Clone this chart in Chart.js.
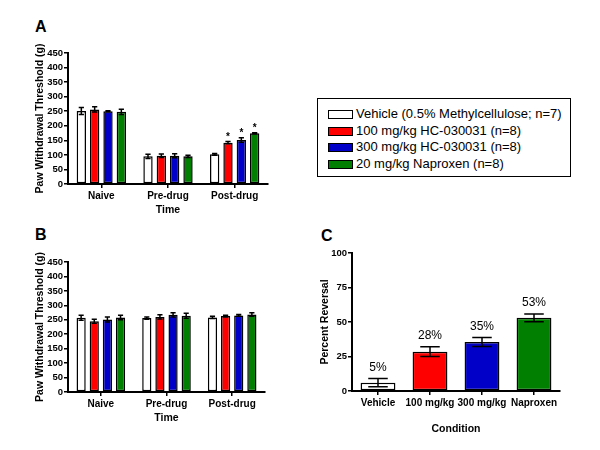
<!DOCTYPE html>
<html>
<head>
<meta charset="utf-8">
<script src="https://cdn.jsdelivr.net/npm/chart.js@4/dist/chart.umd.min.js"></script>
<style>
    body { margin: 0; background: #fff; font-family: "Liberation Sans", Arial, sans-serif; }
    #wrap { position: relative; width: 600px; height: 450px; overflow: hidden; }
    .panel { position: absolute; }
    .letter { position: absolute; font-weight: bold; font-size: 16px; line-height: 16px; }
    #legend { position: absolute; left: 317px; top: 98px; width: 252px; height: 77px; border: 1.5px solid #000; }
    .item { position: absolute; left: 10px; height: 17px; line-height: 17px; font-size: 13px; white-space: nowrap; }
    .swatch { display: inline-block; width: 23px; height: 7px; border: 1px solid #000; margin-right: 3px; vertical-align: -1px; }
</style>
</head>
<body>
<div id="wrap">
    <div class="letter" style="left:35px;top:19px">A</div>
    <div class="letter" style="left:35px;top:227px">B</div>
    <div class="letter" style="left:321px;top:228px">C</div>
    <div class="panel" style="left:0;top:0"><canvas id="chartA" width="300" height="220"></canvas></div>
    <div class="panel" style="left:0;top:220px"><canvas id="chartB" width="300" height="230"></canvas></div>
    <div class="panel" style="left:300px;top:220px"><canvas id="chartC" width="300" height="230"></canvas></div>
    <div id="legend"></div>
</div>
<script>
// categorie e serie
var categories = ['Naive', 'Pre-drug', 'Post-drug'];
var seriesNames = ['Vehicle (0.5% Methylcellulose; n=7)', '100 mg/kg HC-030031 (n=8)', '300 mg/kg HC-030031 (n=8)', '20 mg/kg Naproxen (n=8)'];
var seriesColors = ['#ffffff', '#ff0000', '#0000c8', '#007f00'];

// pannello A (medie e errori)
var vehicleA = [251, 95, 102];
var hc100A = [256, 97, 142];
var hc300A = [250, 97, 151];
var naproxenA = [248, 95, 174];
var vehicleAErr = [12, 7, 3];
var hc100AErr = [9, 6, 4];
var hc300AErr = [2, 7, 8];
var naproxenAErr = [9, 4, 2];
var vehicleASig = [0, 0, 0];
var hc100ASig = [0, 0, 1];
var hc300ASig = [0, 0, 1];
var naproxenASig = [0, 0, 1];

// pannello B
var vehicleB = [257, 256, 258];
var hc100B = [245, 260, 263];
var hc300B = [251, 267, 265];
var naproxenB = [258, 264, 268];
var vehicleBErr = [9, 4, 4];
var hc100BErr = [7, 7, 3];
var hc300BErr = [9, 7, 3];
var naproxenBErr = [8, 9, 6];

// pannello C
var conditions = ['Vehicle', '100 mg/kg', '300 mg/kg', 'Naproxen'];
var reversal = [6, 28.5, 35.5, 53];
var reversalErr = [3, 3.5, 3.2, 2.8];
var reversalLabels = ['5%', '28%', '35%', '53%'];

var FONT = '"Liberation Sans", Arial, sans-serif';

// legenda html
var legend = document.getElementById('legend');
seriesNames.forEach(function (name, i) {
    var div = document.createElement('div');
    div.className = 'item';
    div.style.top = (6 + i * 16.7) + 'px';
    div.innerHTML = '<span class="swatch" style="background:' + seriesColors[i] + '"></span>' + name;
    legend.appendChild(div);
});

// barre di errore, asterischi ed etichette
var errorBarPlugin = {
    id: 'errorBars',
    afterDatasetsDraw: function (chart) {
        var ctx = chart.ctx;
        var yScale = chart.scales.y;
        chart.data.datasets.forEach(function (ds, i) {
            var meta = chart.getDatasetMeta(i);
            meta.data.forEach(function (bar, j) {
                var v = ds.data[j];
                var e = ds.errors[j];
                var top = yScale.getPixelForValue(v + e);
                var bottom = yScale.getPixelForValue(v - e);
                var half = bar.width * 0.28;
                ctx.save();
                ctx.strokeStyle = '#000';
                ctx.lineWidth = 1.5;
                ctx.beginPath();
                ctx.moveTo(bar.x, top);
                ctx.lineTo(bar.x, bottom);
                ctx.moveTo(bar.x - half, top);
                ctx.lineTo(bar.x + half, top);
                ctx.moveTo(bar.x - half, bottom);
                ctx.lineTo(bar.x + half, bottom);
                ctx.stroke();
                ctx.fillStyle = '#000';
                ctx.textAlign = 'center';
                if (ds.stars && ds.stars[j]) {
                    ctx.font = 'bold 10px ' + FONT;
                    ctx.textBaseline = 'alphabetic';
                    ctx.fillText('*', bar.x, top - 1.5);
                }
                if (ds.valueLabels) {
                    ctx.font = '12px ' + FONT;
                    ctx.textBaseline = 'middle';
                    ctx.fillText(ds.valueLabels[j], bar.x, top - 11);
                }
                ctx.restore();
            });
        });
    }
};

function makeScales(yMax, step, yTitle, xTitle, yWidth, xHeight) {
    return {
        x: {
            afterFit: function (scale) { scale.height = xHeight; },
            border: { color: '#000', width: 2 },
            grid: { drawOnChartArea: false, offset: false, color: '#000', lineWidth: 1.5, tickLength: 4 },
            ticks: { color: '#000', padding: 2, maxRotation: 0, autoSkip: false, font: { family: FONT, size: 10, weight: 'bold' } },
            title: { display: true, text: xTitle, color: '#000', padding: { top: 2, bottom: 4 }, font: { family: FONT, size: 10.5, weight: 'bold' } }
        },
        y: {
            min: 0,
            max: yMax,
            afterFit: function (scale) { scale.width = yWidth; },
            border: { color: '#000', width: 2 },
            grid: { drawOnChartArea: false, color: '#000', lineWidth: 1.5, tickLength: 4 },
            ticks: { stepSize: step, color: '#000', padding: 1, font: { family: FONT, size: 9.5, weight: 'bold' } },
            title: { display: true, text: yTitle, color: '#000', padding: { top: 4, bottom: 2 }, font: { family: FONT, size: 10.5, weight: 'bold' } }
        }
    };
}

function groupChart(id, values, errors, sigs, padding) {
    var datasets = values.map(function (vals, i) {
        return {
            label: seriesNames[i],
            data: vals,
            errors: errors[i],
            stars: sigs ? sigs[i] : null,
            backgroundColor: seriesColors[i],
            borderColor: '#000',
            borderWidth: 1.5,
            borderSkipped: false,
            barPercentage: 0.7,
            categoryPercentage: 0.8
        };
    });
    return new Chart(document.getElementById(id), {
        type: 'bar',
        data: { labels: categories, datasets: datasets },
        options: {
            responsive: false,
            animation: false,
            layout: { padding: padding },
            plugins: { legend: { display: false }, tooltip: { enabled: false } },
            scales: makeScales(450, 50, 'Paw Withdrawal Threshold (g)', 'Time', 38, 36)
        },
        plugins: [errorBarPlugin]
    });
}

groupChart('chartA',
    [vehicleA, hc100A, hc300A, naproxenA],
    [vehicleAErr, hc100AErr, hc300AErr, naproxenAErr],
    [vehicleASig, hc100ASig, hc300ASig, naproxenASig],
    { left: 30, top: 53, right: 32, bottom: 0 });

groupChart('chartB',
    [vehicleB, hc100B, hc300B, naproxenB],
    [vehicleBErr, hc100BErr, hc300BErr, naproxenBErr],
    null,
    { left: 30, top: 42, right: 35, bottom: 22 });

new Chart(document.getElementById('chartC'), {
    type: 'bar',
    data: {
        labels: conditions,
        datasets: [{
            data: reversal,
            errors: reversalErr,
            valueLabels: reversalLabels,
            backgroundColor: seriesColors,
            borderColor: '#000',
            borderWidth: 1.5,
            borderSkipped: false,
            barPercentage: 0.67,
            categoryPercentage: 1
        }]
    },
    options: {
        responsive: false,
        animation: false,
        layout: { padding: { left: 15, top: 33, right: 40, bottom: 11 } },
        plugins: { legend: { display: false }, tooltip: { enabled: false } },
        scales: makeScales(100, 25, 'Percent Reversal', 'Condition', 37, 48)
    },
    plugins: [errorBarPlugin]
});
</script>
</body>
</html>
